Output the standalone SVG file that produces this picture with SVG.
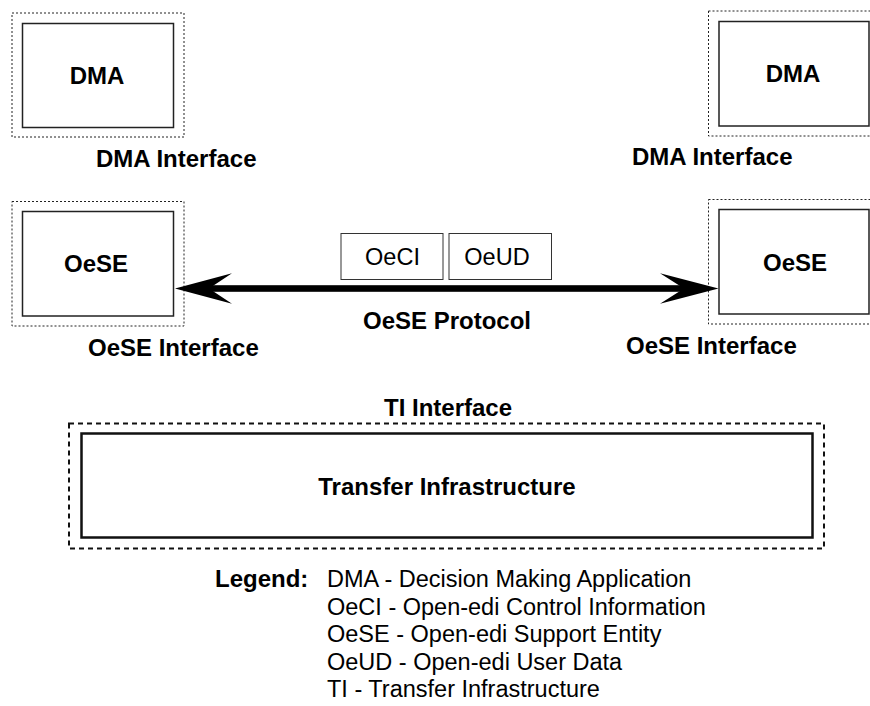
<svg xmlns="http://www.w3.org/2000/svg" width="870" height="706" viewBox="0 0 870 706">
<style>
text{font-family:"Liberation Sans",Arial,Helvetica,sans-serif;fill:#000}
.b{font-weight:bold;font-size:24px}
.c{text-anchor:middle}
.r{font-size:23.5px}
.dot{fill:none;stroke:#222;stroke-width:1;stroke-dasharray:2 2}
.box{fill:#fff;stroke:#222;stroke-width:1.5}
.pdu{fill:#fff;stroke:#333;stroke-width:1}
.dash{fill:none;stroke:#111;stroke-width:2;stroke-dasharray:5 4}
.ti{fill:#fff;stroke:#111;stroke-width:2.5}
</style>
<rect width="870" height="706" fill="#fff"/>
<g id="dma-left">
<rect class="dot" x="12" y="13" width="172" height="124"/>
<rect class="box" x="22.5" y="23.5" width="151" height="104"/>
<text class="b c" x="97" y="84">DMA</text>
<text class="b" x="96" y="167">DMA Interface</text>
</g>
<g id="dma-right">
<rect class="dot" x="708.5" y="11" width="180" height="125"/>
<rect class="box" x="719" y="21.5" width="150" height="104.5"/>
<text class="b c" x="793" y="82">DMA</text>
<text class="b" x="632" y="165">DMA Interface</text>
</g>
<g id="oese-left">
<rect class="dot" x="12" y="201.5" width="172" height="124.5"/>
<rect class="box" x="22.5" y="211.5" width="151" height="104.5"/>
<text class="b c" x="96" y="272">OeSE</text>
<text class="b" x="88" y="356">OeSE Interface</text>
</g>
<g id="oese-right">
<rect class="dot" x="708.5" y="199.5" width="180" height="124.5"/>
<rect class="box" x="719" y="209.5" width="150" height="104.5"/>
<text class="b c" x="795" y="271">OeSE</text>
<text class="b" x="626" y="354">OeSE Interface</text>
</g>
<g id="oeci">
<rect class="pdu" x="341" y="233.5" width="102" height="46"/>
<text class="r c" x="392.5" y="265">OeCI</text>
</g>
<g id="oeud">
<rect class="pdu" x="449" y="233.5" width="102.5" height="46"/>
<text class="r c" x="497" y="265">OeUD</text>
</g>
<g id="connectors">
<rect x="208" y="285.2" width="478" height="6.6" fill="#000"/>
<path d="M175,288.5 L232,273.3 L209,288.5 L232,303.7 Z" fill="#000"/>
<path d="M718.5,288.5 L660,273.3 L684,288.5 L660,303.7 Z" fill="#000"/>
<text class="b c" x="447" y="329">OeSE Protocol</text>
</g>
<g id="transfer-infrastructure">
<text class="b c" x="448" y="416">TI Interface</text>
<rect class="dash" x="69" y="423.5" width="755" height="125"/>
<rect class="ti" x="81.5" y="433.5" width="731" height="104"/>
<text class="b c" x="447" y="495">Transfer Infrastructure</text>
</g>
<g id="legend">
<text class="b" x="215" y="587">Legend:</text>
<text class="r" x="327" y="587">DMA - Decision Making Application</text>
<text class="r" x="327" y="614.5">OeCI - Open-edi Control Information</text>
<text class="r" x="327" y="642">OeSE - Open-edi Support Entity</text>
<text class="r" x="327" y="669.5">OeUD - Open-edi User Data</text>
<text class="r" x="327" y="697">TI - Transfer Infrastructure</text>
</g>
</svg>
